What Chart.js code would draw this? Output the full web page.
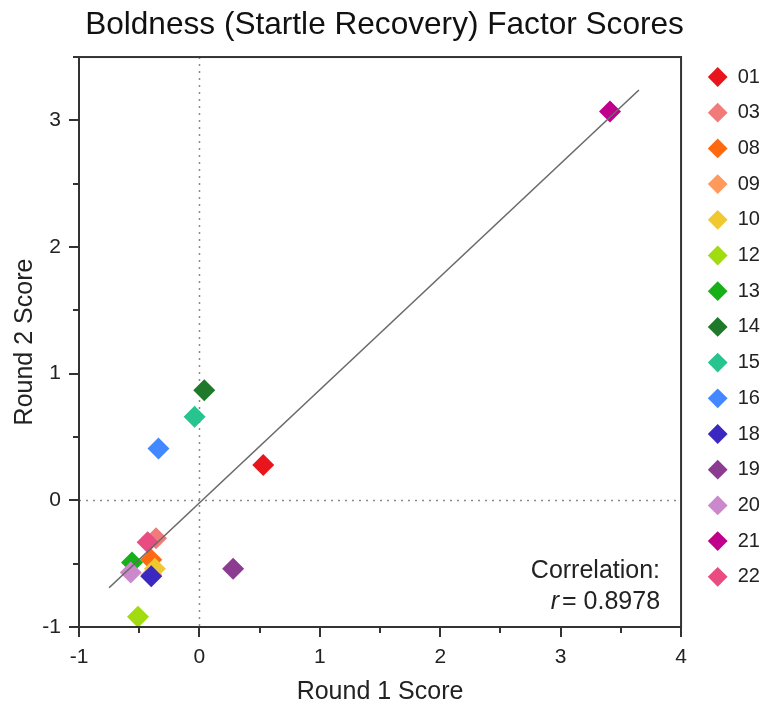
<!DOCTYPE html>
<html>
<head>
<meta charset="utf-8">
<script src="https://cdn.jsdelivr.net/npm/chart.js@4"></script>
<style>
html,body{margin:0;padding:0;background:#fff;}
#wrap{width:772px;height:710px;}
</style>
</head>
<body>
<div id="wrap"><canvas id="c" width="772" height="710"></canvas></div>
<script>
// ---- data ----
const participants = ['01','03','08','09','10','12','13','14','15','16','18','19','20','21','22'];
const round1Scores = [0.53,-0.36,-0.40,-0.40,-0.37,-0.51,-0.56,0.04,-0.04,-0.34,-0.40,0.28,-0.57,3.41,-0.43];
const round2Scores = [0.28,-0.30,-0.47,-0.59,-0.54,-0.92,-0.49,0.87,0.66,0.41,-0.60,-0.54,-0.57,3.07,-0.33];
const colors = ['#e8161c','#f07b7b','#ff6a10','#ff9a5c','#f0c830','#a0dc10','#18b018','#1e7a2a','#28c490','#4488ff','#3a28c0','#8c3c90','#cc88cc','#c0008a','#e84c80'];
const fitX = [-0.75, 3.65];
const fitY = [-0.69, 3.24];
const xTicks = [-1,0,1,2,3,4];
const yTicks = [-1,0,1,2,3];
const correlation = '0.8978';

const FONT = '"Liberation Sans", Arial, sans-serif';
const N = participants.length;

const datasets = participants.map((id,i)=>({
  label: id,
  type: 'scatter',
  data: [{x: round1Scores[i], y: round2Scores[i]}],
  backgroundColor: colors[i],
  borderColor: colors[i],
  borderWidth: 0,
  pointStyle: 'rectRot',
  pointRadius: 11,
  pointHoverRadius: 11,
  order: N - i + 1
}));
datasets.push({
  label: 'fit',
  type: 'line',
  data: fitX.map((x,i)=>({x, y: fitY[i]})),
  borderColor: '#6a6a6a',
  borderWidth: 1.6,
  pointRadius: 0,
  fill: false,
  order: 0
});

const decor = {
  id: 'decor',
  beforeDatasetsDraw(chart){
    const {ctx, chartArea:a, scales:{x,y}} = chart;
    ctx.save();
    ctx.strokeStyle = '#8a8a8a';
    ctx.lineWidth = 1.5;
    ctx.setLineDash([2,5]);
    const x0 = Math.round(x.getPixelForValue(0))+0.5, y0 = Math.round(y.getPixelForValue(0))+0.5;
    ctx.beginPath(); ctx.moveTo(x0,a.top); ctx.lineTo(x0,a.bottom); ctx.stroke();
    ctx.beginPath(); ctx.moveTo(a.left,y0); ctx.lineTo(a.right,y0); ctx.stroke();
    ctx.restore();
  },
  afterDraw(chart){
    const {ctx, chartArea:a, scales:{x,y}} = chart;
    ctx.save();
    ctx.strokeStyle = '#333';
    ctx.lineWidth = 2;
    ctx.strokeRect(a.left, a.top, a.right-a.left, a.bottom-a.top);
    for (let v = x.min; v <= x.max + 1e-9; v += 0.5) {
      const px = Math.round(x.getPixelForValue(v));
      const major = Math.abs(v - Math.round(v)) < 1e-9;
      ctx.beginPath(); ctx.moveTo(px, a.bottom); ctx.lineTo(px, a.bottom + (major ? 10 : 6)); ctx.stroke();
    }
    for (let v = y.min; v <= y.max + 1e-9; v += 0.5) {
      const py = Math.round(y.getPixelForValue(v));
      const major = Math.abs(v - Math.round(v)) < 1e-9;
      ctx.beginPath(); ctx.moveTo(a.left, py); ctx.lineTo(a.left - (major ? 10 : 6), py); ctx.stroke();
    }
    ctx.fillStyle = '#222';
    ctx.textAlign = 'right';
    ctx.textBaseline = 'middle';
    ctx.font = '25px ' + FONT;
    const rx = a.right - 21;
    ctx.fillText('Correlation:', rx, a.bottom - 56);
    const num = '= ' + correlation;
    const w = ctx.measureText(num).width;
    ctx.fillText(num, rx, a.bottom - 25);
    ctx.font = 'italic 25px ' + FONT;
    ctx.fillText('r', rx - w - 3, a.bottom - 25);
    ctx.restore();
  }
};

const legendShift = {
  id: 'legendShift',
  afterLayout(chart){
    const L = chart.legend;
    if (!L) return;
    const dy = 51.3 - L.top;
    const dx = 692 - L.left;
    L.top += dy; L.bottom += dy;
    L.left += dx; L.right += dx;
  }
};

new Chart(document.getElementById('c'), {
  data: { datasets },
  options: {
    responsive: false,
    animation: false,
    layout: { padding: { left: 10, right: 13, top: 0, bottom: 0 } },
    plugins: {
      title: {
        display: true,
        text: 'Boldness (Startle Recovery) Factor Scores',
        color: '#111',
        font: { family: FONT, size: 31.6, weight: 'normal', lineHeight: 1.15 },
        padding: { top: 6.8, bottom: 13.9 }
      },
      legend: {
        display: true,
        position: 'right',
        align: 'start',
        labels: {
          usePointStyle: true,
          pointStyle: 'rectRot',
          boxWidth: 20,
          boxHeight: 14,
          padding: 15.7,
          color: '#222',
          font: { family: FONT, size: 20 },
          filter: (item) => item.text !== 'fit',
          sort: (a, b) => a.datasetIndex - b.datasetIndex
        }
      },
      tooltip: { enabled: false }
    },
    scales: {
      x: {
        type: 'linear',
        min: -1, max: 4,
        afterBuildTicks: (s) => { s.ticks = xTicks.map(v => ({value: v})); },
        afterFit: (s) => { s.height = 83; },
        ticks: { color: '#222', font: { family: FONT, size: 21 }, padding: 8 },
        grid: { display: true, drawOnChartArea: false, drawTicks: true, tickLength: 10, color: 'rgba(0,0,0,0)' },
        border: { display: false },
        title: { display: true, text: 'Round 1 Score', color: '#222', font: { family: FONT, size: 25 }, padding: { top: 6, bottom: 3 } }
      },
      y: {
        type: 'linear',
        min: -1, max: 3.5,
        afterBuildTicks: (s) => { s.ticks = yTicks.map(v => ({value: v})); },
        afterFit: (s) => { s.width = 69; },
        ticks: { color: '#222', font: { family: FONT, size: 21 }, padding: 8 },
        grid: { display: true, drawOnChartArea: false, drawTicks: true, tickLength: 10, color: 'rgba(0,0,0,0)' },
        border: { display: false },
        title: { display: true, text: 'Round 2 Score', color: '#222', font: { family: FONT, size: 25 }, padding: { top: 0, bottom: 0 } }
      }
    }
  },
  plugins: [decor, legendShift]
});
</script>
</body>
</html>
